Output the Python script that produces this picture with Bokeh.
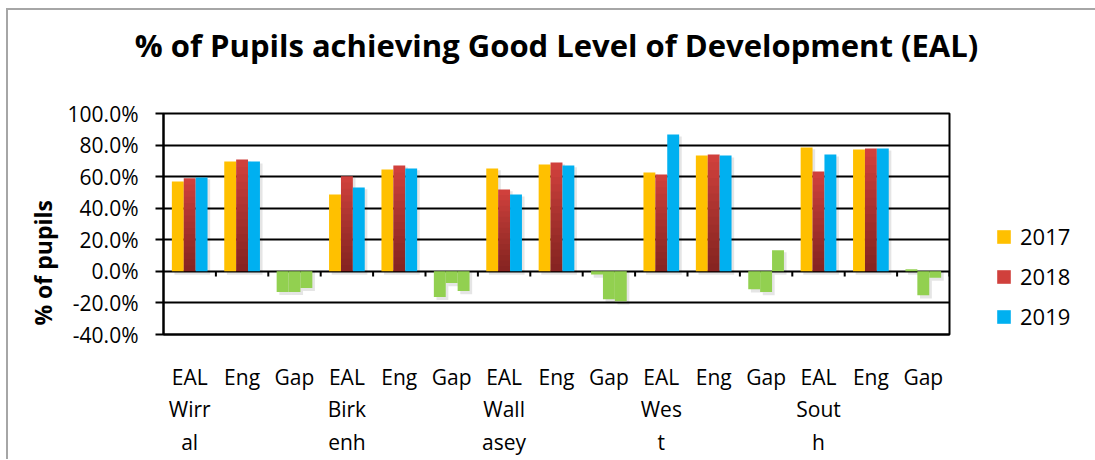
from bokeh.plotting import figure
from bokeh.models import (ColumnDataSource, FixedTicker, PrintfTickFormatter,
                          Legend, LegendItem, Title)
from bokeh.embed import file_html
from bokeh.resources import INLINE

# ---------------- data ----------------
categories = ["EAL Wirral", "Eng", "Gap", "EAL Birkenh", "Eng", "Gap",
              "EAL Wallasey", "Eng", "Gap", "EAL West", "Eng", "Gap",
              "EAL South", "Eng", "Gap"]
tick_labels = ["EAL\nWirr\nal", "Eng", "Gap", "EAL\nBirk\nenh", "Eng", "Gap",
               "EAL\nWall\nasey", "Eng", "Gap", "EAL\nWes\nt", "Eng", "Gap",
               "EAL\nSout\nh", "Eng", "Gap"]
is_gap = [False, False, True] * 5
series_names = ["2017", "2018", "2019"]
v2017 = [57.0, 69.6, -13.0, 48.7, 64.6, -16.2, 65.2, 67.7, -2.0,
         62.7, 73.4, -11.4, 78.5, 77.2, 1.3]
v2018 = [59.0, 70.9, -13.0, 60.3, 67.1, -7.4, 51.9, 69.0, -17.7,
         61.4, 74.0, -13.1, 63.3, 77.8, -15.2]
v2019 = [59.5, 69.6, -10.5, 53.2, 65.2, -12.5, 48.7, 67.1, -19.0,
         86.7, 73.4, 13.3, 74.0, 77.8, -4.0]
y_ticks = [-40, -20, 0, 20, 40, 60, 80, 100]

# ---------------- styles ----------------
series_colors = ["#FFC000", "#D0403C", "#00B0F0"]
gap_color = "#92D050"
FONT = "Open Sans"
bar_w = 0.227

n = len(categories)
xc = list(range(n))

p = figure(frame_width=786, frame_height=221, x_range=(-0.5, n - 0.5),
           y_range=(-40, 100), output_backend="svg", toolbar_location=None,
           min_border_left=155, min_border_right=144, min_border_top=103,
           min_border_bottom=118,
           title="% of Pupils achieving Good Level of Development (EAL)")
p.styles = {"border-left": "2px solid #A6A6A6", "border-top": "2px solid #A6A6A6",
            "margin-left": "6px", "margin-top": "8px"}

p.title.text_font = FONT
p.title.text_font_size = "31px"
p.title.text_font_style = "bold"
p.title.align = "center"
p.title.vertical_align = "top"
p.title.text_color = "black"
p.title.standoff = 10

# empty spacer between the title and the plot area
p.add_layout(Title(text="\u00a0", text_font=FONT, text_font_size="20px",
                   standoff=12), "above")

# grid / frame
p.xgrid.grid_line_color = None
p.ygrid.ticker = FixedTicker(ticks=y_ticks)
p.ygrid.grid_line_color = "black"
p.ygrid.grid_line_width = 2
p.outline_line_color = "black"
p.outline_line_width = 2
p.background_fill_color = "white"

# soft drop shadows behind the bars
for k, vals in enumerate([v2017, v2018, v2019]):
    xs = [x + (k - 1) * bar_w + 0.05 for x in xc]
    top = [v - 1.2 if v > 0 else 0 for v in vals]
    bot = [-2.2 if v > 0 else v - 2.0 for v in vals]
    p.vbar(x=xs, top=top, bottom=bot, width=bar_w, fill_color="#000000",
           fill_alpha=0.10, line_color=None)

renderers = []
for k, vals in enumerate([v2017, v2018, v2019]):
    xs = [x + (k - 1) * bar_w for x in xc]
    cols = [gap_color if g else series_colors[k] for g in is_gap]
    src = ColumnDataSource(dict(x=xs, top=vals, color=cols))
    r = p.vbar(x="x", top="top", bottom=0, width=bar_w, source=src,
               fill_color="color", line_color=None)
    renderers.append(r)
    if k == 1:
        # darker gradient toward the base of the red bars
        L, R, T, B = [], [], [], []
        steps = 14
        for x, v, g in zip(xs, vals, is_gap):
            if g or v <= 0:
                continue
            for s in range(1, steps + 1):
                L.append(x - bar_w / 2)
                R.append(x + bar_w / 2)
                B.append(0)
                T.append(v * (1 - s / (steps + 1)))
        p.quad(left=L, right=R, top=T, bottom=B, fill_color="black",
               fill_alpha=0.028, line_color=None)

# boundary tick marks on the zero line
bounds = [i + 0.5 for i in range(n)]
p.segment(x0=bounds, y0=[0] * n, x1=bounds, y1=[-3.2] * n,
          line_color="black", line_width=2)

# y axis
p.yaxis.ticker = FixedTicker(ticks=y_ticks)
p.yaxis.formatter = PrintfTickFormatter(format="%.1f%%")
p.yaxis.major_label_text_font = FONT
p.yaxis.major_label_text_font_size = "21px"
p.yaxis.major_label_text_color = "black"
p.yaxis.major_tick_out = 8
p.yaxis.major_tick_in = 0
p.yaxis.major_tick_line_width = 2
p.yaxis.major_tick_line_color = "black"
p.yaxis.minor_tick_line_color = None
p.yaxis.axis_line_color = "black"
p.yaxis.axis_line_width = 2
p.yaxis.major_label_standoff = 17
# trailing no-break spaces shift the visible title down, as in the reference
p.yaxis.axis_label = "% of pupils" + "\u00a0" * 13
p.yaxis.axis_label_text_font = FONT
p.yaxis.axis_label_text_font_size = "23px"
p.yaxis.axis_label_text_font_style = "bold"
p.yaxis.axis_label_text_color = "black"
p.yaxis.axis_label_standoff = 6

# x axis
p.xaxis.ticker = FixedTicker(ticks=xc)
p.xaxis.major_label_overrides = {i: lab for i, lab in enumerate(tick_labels)}
p.xaxis.major_label_text_font = FONT
p.xaxis.major_label_text_font_size = "21px"
p.xaxis.major_label_text_color = "black"
p.xaxis.major_label_text_line_height = 1.17
p.xaxis.major_tick_line_color = None
p.xaxis.minor_tick_line_color = None
p.xaxis.axis_line_color = "black"
p.xaxis.axis_line_width = 2
p.xaxis.major_label_standoff = 22

legend = Legend(items=[LegendItem(label=nm, renderers=[r], index=0)
                       for nm, r in zip(series_names, renderers)],
                location=(46, 3), orientation="vertical")
legend.label_text_font = FONT
legend.label_text_font_size = "22px"
legend.label_text_color = "black"
legend.glyph_width = 17
legend.glyph_height = 17
legend.label_height = 20
legend.spacing = 10
legend.padding = 0
legend.margin = 0
legend.label_standoff = 8
legend.border_line_color = None
legend.background_fill_alpha = 0
p.add_layout(legend, "right")

open("out.html", "w").write(file_html(p, INLINE))
